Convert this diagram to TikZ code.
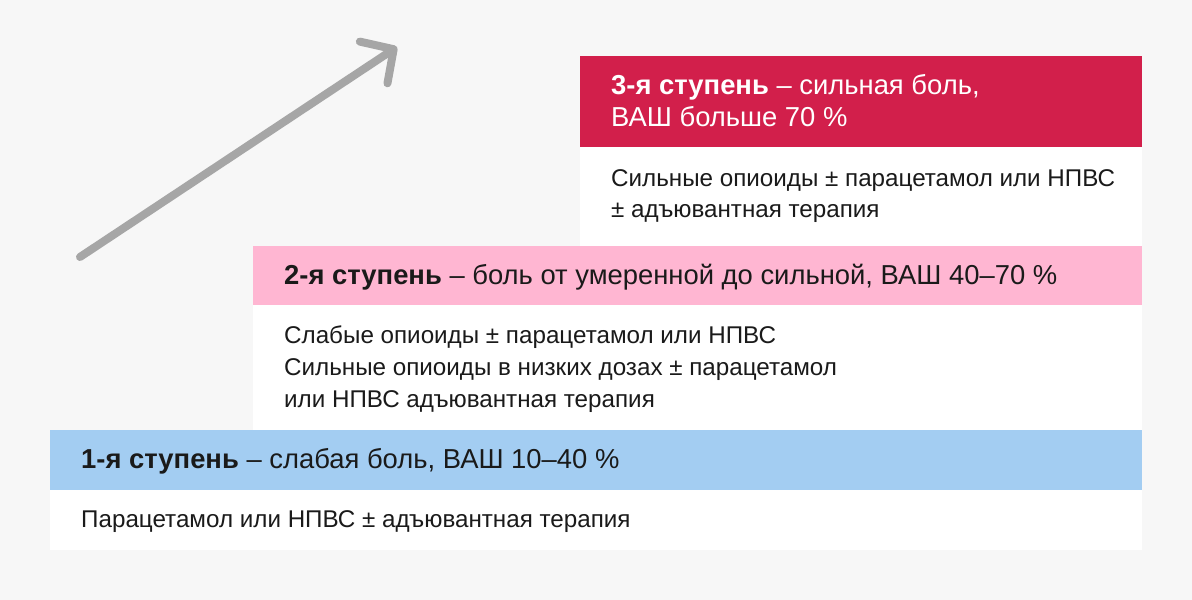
\documentclass[tikz,border=0pt]{standalone}
\usepackage{fontspec}
\setmainfont{Liberation Sans}
\usetikzlibrary{arrows.meta,positioning,calc}
\tikzset{>=Stealth}
\definecolor{fondo}{RGB}{247,247,247}
\definecolor{S1color}{RGB}{163,205,242}
\definecolor{S2color}{RGB}{255,182,210}
\definecolor{S3color}{RGB}{210,31,75}
\definecolor{flecha}{RGB}{166,166,166}
\definecolor{texto}{RGB}{26,26,26}

\begin{document}
\begin{tikzpicture}[x=1pt, y=1pt,
  caja/.style={anchor=north west, inner sep=0pt, outer sep=0pt},
  titulo/.style={anchor=base west, inner sep=0pt, text=texto, font=\fontsize{27.4}{32}\selectfont},
  cuerpo/.style={anchor=base west, inner sep=0pt, text=texto, font=\fontsize{24.2}{28}\selectfont},
  flechagris/.style={draw=flecha, line width=8pt, line cap=round,
    -{Straight Barb[length=24pt, width=50pt, round]}}
]

% Fondo (fija el marco de 1192 x 600)
\fill[fondo] (0,0) rectangle (1192,600);

% Flecha de subida
\coordinate (inicio) at (80,343);
\coordinate (fin) at (397,553);
\draw[flechagris] (inicio) -- (fin);

% Cajas: cabecera de color + cuerpo blanco
\node[caja, fill=S3color, minimum width=562, minimum height=91] (h3) at (580,544) {};
\node[caja, fill=white, minimum width=562, minimum height=99] (b3) at (h3.south west) {};
\node[caja, fill=S2color, minimum width=889, minimum height=59] (h2) at (253,354) {};
\node[caja, fill=white, minimum width=889, minimum height=125] (b2) at (h2.south west) {};
\node[caja, fill=S1color, minimum width=1092, minimum height=60] (h1) at (50,170) {};
\node[caja, fill=white, minimum width=1092, minimum height=60] (b1) at (h1.south west) {};

% 3-я ступень
\node[titulo, text=white] (t3a) at ($(h3.north west)+(31,-39)$) {\textbf{3-я ступень} – сильная боль,};
\node[titulo, text=white] (t3b) at ($(t3a.base west)+(0,-32)$) {ВАШ больше 70 \%};
\foreach \linea [count=\i] in {{Сильные опиоиды ± парацетамол или НПВС},
                                {± адъювантная терапия}} {%
  \pgfmathsetmacro{\dy}{-40-31*(\i-1)}%
  \node[cuerpo] (c3-\i) at ($(b3.north west)+(31,\dy)$) {\linea};
}

% 2-я ступень
\node[titulo] (t2) at ($(h2.north west)+(31,-39)$) {\textbf{2-я ступень} – боль от умеренной до сильной, ВАШ 40–70 \%};
\foreach \linea [count=\i] in {{Слабые опиоиды ± парацетамол или НПВС},
                                {Сильные опиоиды в низких дозах ± парацетамол},
                                {или НПВС адъювантная терапия}} {%
  \pgfmathsetmacro{\dy}{-39-32*(\i-1)}%
  \node[cuerpo] (c2-\i) at ($(b2.north west)+(31,\dy)$) {\linea};
}

% 1-я ступень
\node[titulo] (t1) at ($(h1.north west)+(31,-39)$) {\textbf{1-я ступень} – слабая боль, ВАШ 10–40 \%};
\node[cuerpo] (c1) at ($(b1.north west)+(31,-38)$) {Парацетамол или НПВС ± адъювантная терапия};

\end{tikzpicture}
\end{document}
